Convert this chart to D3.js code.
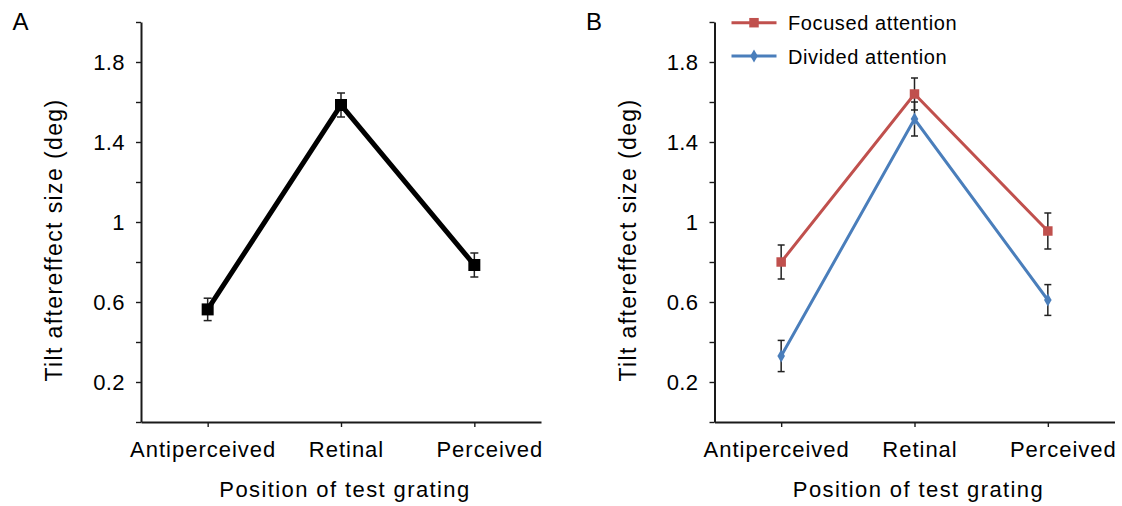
<!DOCTYPE html>
<html>
<head>
<meta charset="utf-8">
<script src="https://cdn.jsdelivr.net/npm/d3@7"></script>
<style>
  body { margin: 0; background: #fff; }
  svg { display: block; font-family: "Liberation Sans", Arial, Helvetica, sans-serif; }
  .axis path, .axis line { stroke: #1a1a1a; }
</style>
</head>
<body>
<svg id="chart" width="1122" height="506"></svg>
<script>
// data
const categories = ["Antiperceived", "Retinal", "Perceived"];

const overallMean = [0.563, 1.585, 0.785];
const overallErr = [0.056, 0.06, 0.06];

const focusedMean = [0.80, 1.64, 0.955];
const focusedErr = [0.085, 0.08, 0.09];

const dividedMean = [0.33, 1.515, 0.61];
const dividedErr = [0.078, 0.085, 0.077];

const yTicks = [0, 0.2, 0.4, 0.6, 0.8, 1, 1.2, 1.4, 1.6, 1.8, 2];
const yLabels = [0.2, 0.6, 1, 1.4, 1.8];

const seriesNames = ["Focused attention", "Divided attention"];
const red = "#c0504d", blue = "#4a7ebb";

const svg = d3.select("#chart");

const y = d3.scaleLinear().domain([0, 2]).range([422, 22]);

function panel(left, letter) {
  const x = d3.scalePoint().domain(categories).range([left, left + 400]).padding(0.5);
  // the category labels sit a little wider apart than the ticks
  const xLabel = d3.scalePoint().domain(categories).range([left - 10, left + 420]).padding(0.5);
  const g = svg.append("g");

  // y axis
  const yAxis = g.append("g")
    .attr("class", "axis")
    .attr("transform", `translate(${left},0)`)
    .call(d3.axisLeft(y)
      .tickValues(yTicks)
      .tickSize(5)
      .tickSizeOuter(0)
      .tickFormat(d => yLabels.some(v => Math.abs(v - d) < 1e-9) ? d3.format("")(+d.toFixed(1)) : ""));
  yAxis.select(".domain").attr("stroke-width", 2);
  yAxis.selectAll(".tick line").attr("stroke-width", 1.4).attr("stroke", "#444");
  yAxis.selectAll(".tick text")
    .attr("x", -16)
    .style("font-size", "22px")
    .style("letter-spacing", "0.4px")
    .attr("fill", "#000");

  // x axis
  const xAxis = g.append("g")
    .attr("class", "axis")
    .attr("transform", `translate(0,${y(0)})`)
    .call(d3.axisBottom(x).tickSize(5).tickSizeOuter(0));
  xAxis.select(".domain").attr("stroke-width", 2);
  xAxis.selectAll(".tick line").attr("stroke-width", 1.4).attr("stroke", "#444");
  xAxis.selectAll(".tick text")
    .attr("x", d => xLabel(d) - x(d))
    .attr("y", 34.7)
    .attr("dy", 0)
    .style("font-size", "22px")
    .style("letter-spacing", "1px")
    .attr("fill", "#000");

  // axis titles
  g.append("text")
    .attr("x", left + 204)
    .attr("y", 496.5)
    .attr("text-anchor", "middle")
    .style("font-size", "22px")
    .style("letter-spacing", "1.4px")
    .text("Position of test grating");

  g.append("text")
    .attr("transform", `translate(${left - 79},240) rotate(-90)`)
    .attr("text-anchor", "middle")
    .style("font-size", "23px")
    .style("letter-spacing", "1.4px")
    .text("Tilt aftereffect size (deg)");

  g.append("text")
    .attr("x", left - 128.5)
    .attr("y", 29.5)
    .style("font-size", "24px")
    .text(letter);

  return { g, x };
}

function errorBars(g, x, means, errs, cap) {
  const eb = g.append("g").attr("stroke", "#222").attr("stroke-width", 1.5);
  categories.forEach((c, i) => {
    const cx = x(c);
    eb.append("line").attr("x1", cx).attr("x2", cx).attr("y1", y(means[i] - errs[i])).attr("y2", y(means[i] + errs[i]));
    eb.append("line").attr("x1", cx - cap / 2).attr("x2", cx + cap / 2).attr("y1", y(means[i] - errs[i])).attr("y2", y(means[i] - errs[i]));
    eb.append("line").attr("x1", cx - cap / 2).attr("x2", cx + cap / 2).attr("y1", y(means[i] + errs[i])).attr("y2", y(means[i] + errs[i]));
  });
}

// Panel A
const A = panel(141, "A");
const lineA = d3.line().x((d, i) => A.x(categories[i])).y(d => y(d));
errorBars(A.g, A.x, overallMean, overallErr, 8);
A.g.append("path")
  .attr("d", lineA(overallMean))
  .attr("fill", "none")
  .attr("stroke", "#000")
  .attr("stroke-width", 5)
  .attr("stroke-linejoin", "miter");
A.g.selectAll(".sq")
  .data(overallMean)
  .join("rect")
  .attr("x", (d, i) => A.x(categories[i]) - 6)
  .attr("y", d => y(d) - 6)
  .attr("width", 12)
  .attr("height", 12)
  .attr("fill", "#000");

// Panel B
const B = panel(714.5, "B");
const lineB = d3.line().x((d, i) => B.x(categories[i])).y(d => y(d));

B.g.append("path")
  .attr("d", lineB(focusedMean))
  .attr("fill", "none")
  .attr("stroke", red)
  .attr("stroke-width", 3);
B.g.append("path")
  .attr("d", lineB(dividedMean))
  .attr("fill", "none")
  .attr("stroke", blue)
  .attr("stroke-width", 3);
errorBars(B.g, B.x, focusedMean, focusedErr, 7);
errorBars(B.g, B.x, dividedMean, dividedErr, 7);

const square = d3.symbol().type(d3.symbolSquare).size(90);
const diamond = d3.symbol().type(d3.symbolDiamond).size(50);

B.g.selectAll(".fm")
  .data(focusedMean)
  .join("path")
  .attr("transform", (d, i) => `translate(${B.x(categories[i])},${y(d)})`)
  .attr("d", square)
  .attr("fill", red);
B.g.selectAll(".dm")
  .data(dividedMean)
  .join("path")
  .attr("transform", (d, i) => `translate(${B.x(categories[i])},${y(d)})`)
  .attr("d", diamond)
  .attr("fill", blue);

// legend
const legend = B.g.append("g").attr("transform", "translate(731.5,0)");
const legendY = [22.7, 56];
const legendColors = [red, blue];
const legendSymbols = [square, diamond];
seriesNames.forEach((name, i) => {
  legend.append("line")
    .attr("x1", 0).attr("x2", 45)
    .attr("y1", legendY[i]).attr("y2", legendY[i])
    .attr("stroke", legendColors[i])
    .attr("stroke-width", 3);
  legend.append("path")
    .attr("transform", `translate(22.5,${legendY[i]})`)
    .attr("d", legendSymbols[i])
    .attr("fill", legendColors[i]);
  legend.append("text")
    .attr("x", 56.5)
    .attr("y", legendY[i] + 7.5)
    .style("font-size", "20px")
    .style("letter-spacing", "0.6px")
    .text(name);
});
</script>
</body>
</html>
